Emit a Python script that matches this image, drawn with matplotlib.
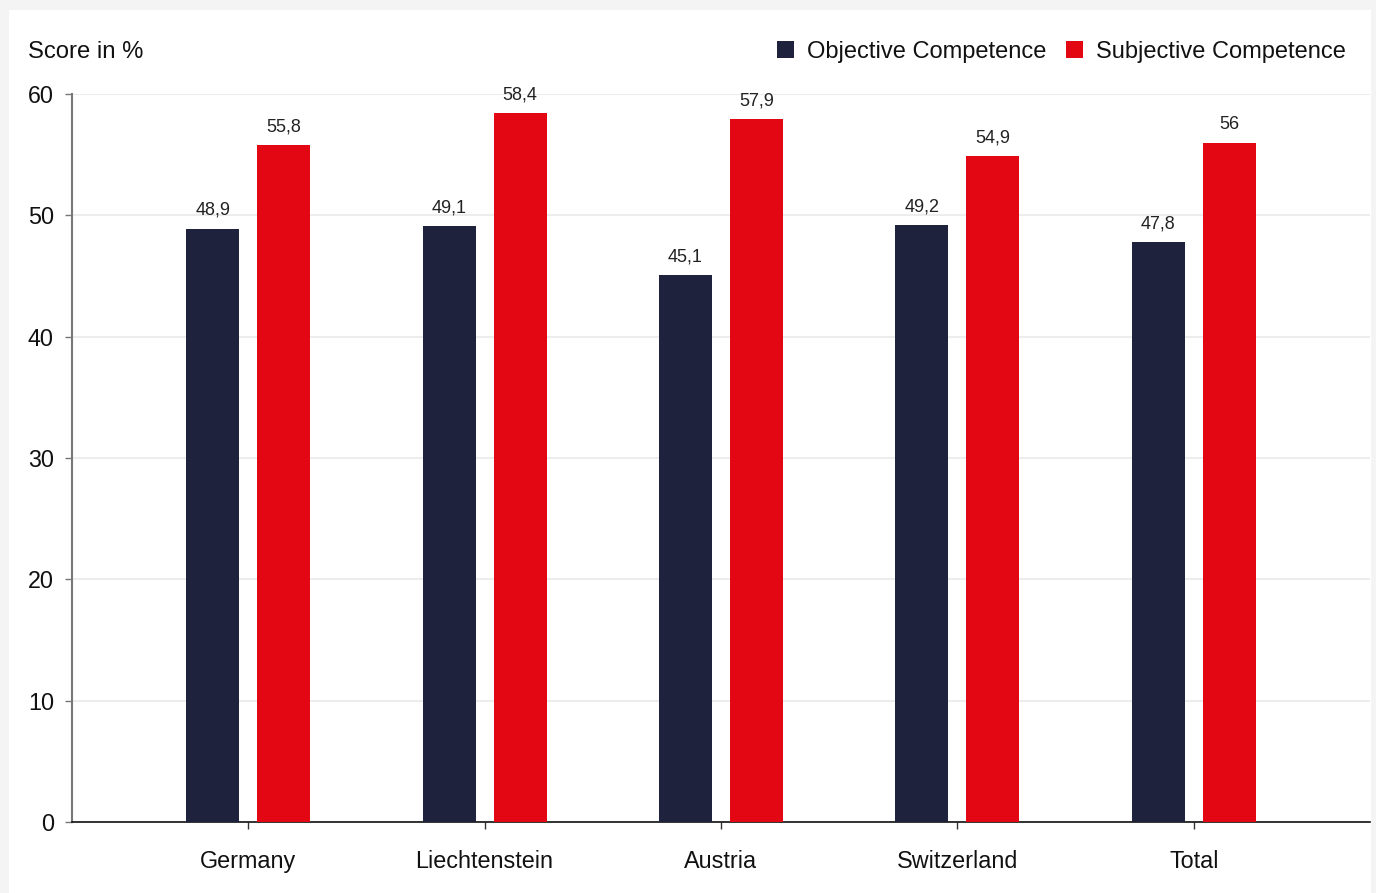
import matplotlib
matplotlib.use("Agg")
import matplotlib.pyplot as plt
import numpy as np
from matplotlib.patches import Rectangle

categories = ["Germany", "Liechtenstein", "Austria", "Switzerland", "Total"]
objective = [48.9, 49.1, 45.1, 49.2, 47.8]
subjective = [55.8, 58.4, 57.9, 54.9, 56.0]
obj_labels = ["48,9", "49,1", "45,1", "49,2", "47,8"]
subj_labels = ["55,8", "58,4", "57,9", "54,9", "56"]
yticks = [0, 10, 20, 30, 40, 50, 60]

navy = "#1e223c"
red = "#e30613"
font = "Liberation Sans"
plt.rcParams["font.family"] = [font, "DejaVu Sans"]

fig = plt.figure(figsize=(13.76, 8.93), dpi=100)
fig.patch.set_facecolor("#f4f4f4")
fig.add_artist(Rectangle((9 / 1376, 0), (1371 - 9) / 1376, (893 - 10) / 893,
                         transform=fig.transFigure, facecolor="white",
                         edgecolor="none", zorder=0))

ax = fig.add_axes([72 / 1376, (893 - 822) / 893, (1370 - 72) / 1376, (822 - 94) / 893])
ax.set_facecolor("none")

x = np.arange(len(categories))
w = 0.224
off = 0.15
b1 = ax.bar(x - off, objective, w, color=navy, zorder=3, label="Objective Competence")
b2 = ax.bar(x + off, subjective, w, color=red, zorder=3, label="Subjective Competence")

for rect, lab in zip(b1, obj_labels):
    ax.annotate(lab, (rect.get_x() + rect.get_width() / 2, rect.get_height()),
                xytext=(0, 7), textcoords="offset points", ha="center", va="bottom",
                fontsize=13, color="#222222")
for rect, lab in zip(b2, subj_labels):
    ax.annotate(lab, (rect.get_x() + rect.get_width() / 2, rect.get_height()),
                xytext=(0, 7), textcoords="offset points", ha="center", va="bottom",
                fontsize=13, color="#222222")

ax.set_xlim(-0.745, 4.745)
ax.set_ylim(0, 60)
ax.set_yticks(yticks)
ax.set_yticklabels([str(t) for t in yticks], fontsize=16.8, color="#111111")
ax.set_xticks(x)
ax.set_xticklabels(categories, fontsize=16.8, color="#111111")
ax.tick_params(axis="y", length=5, width=1, color="#777777", pad=8)
ax.tick_params(axis="x", length=5, width=1, color="#333333", pad=15)

ax.yaxis.grid(True, color="#ededed", linewidth=1.5, zorder=0)
ax.set_axisbelow(True)
for s in ["top", "right"]:
    ax.spines[s].set_visible(False)
ax.spines["left"].set_color("#777777")
ax.spines["left"].set_linewidth(1.5)
ax.spines["bottom"].set_color("#111111")
ax.spines["bottom"].set_linewidth(1.2)

fig.text(28 / 1376, 1 - 52 / 893, "Score in %", fontsize=17.2, ha="left", va="center", color="#111111")

leg = fig.legend(handles=[b1, b2], loc="center right", bbox_to_anchor=(1346 / 1376, 1 - 52 / 893),
                 ncol=2, frameon=False, fontsize=17, handlelength=0.72, handleheight=0.72,
                 handletextpad=0.55, columnspacing=0.85, borderaxespad=0, borderpad=0)
for t in leg.get_texts():
    t.set_color("#111111")

fig.savefig("out.png", dpi=100, facecolor=fig.get_facecolor())
